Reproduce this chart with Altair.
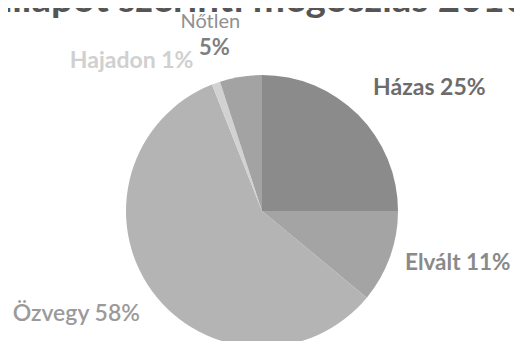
import altair as alt
import pandas as pd

categories = ["Házas", "Elvált", "Özvegy", "Hajadon", "Nőtlen"]
shares = [25, 11, 58, 1, 5]
labels = ["Házas 25%", "Elvált 11%", "Özvegy 58%", "Hajadon 1%", "5%"]
title_text = "Családi állapot szerinti megoszlás 2010"
slice_colors = ["#8b8b8b", "#a4a4a4", "#b4b4b4", "#d2d2d2", "#a3a3a3"]

df = pd.DataFrame({
    "cat": categories,
    "share": shares,
    "label": labels,
    "idx": list(range(len(categories))),
})

CX, CY, R = 254, 203, 136

pie = alt.Chart(df).mark_arc(outerRadius=R).encode(
    theta=alt.Theta("share:Q", stack=True),
    order=alt.Order("idx:Q"),
    x=alt.value(CX),
    y=alt.value(CY),
    color=alt.Color("cat:N", scale=alt.Scale(domain=categories, range=slice_colors), legend=None),
)

text_base = alt.Chart(df).transform_window(
    cum="sum(share)", sort=[alt.SortField("idx")], frame=[None, 0]
).transform_calculate(
    mid="datum.cum - datum.share / 2"
).encode(
    theta=alt.Theta("mid:Q", stack=None),
    x=alt.value(CX),
    y=alt.value(CY),
)

label_styles = {
    "Házas": dict(dx=33, dy=11, color="#6c6c6c", fontWeight="bold", fontSize=23),
    "Elvált": dict(dx=17, dy=-12, color="#8a8a8a", fontWeight="bold", fontSize=22.5),
    "Özvegy": dict(dx=-32, dy=-9, color="#9a9a9a", fontWeight=600, fontSize=23),
    "Hajadon": dict(dx=-66, dy=29, color="#d0d0d0", fontWeight="bold", fontSize=23),
    "Nőtlen": dict(dx=-18, dy=25, color="#7e7e7e", fontWeight="bold", fontSize=22),
}

layers = [pie]
for cat in categories:
    st = label_styles[cat]
    layers.append(
        text_base.mark_text(radius=190, font="Lato", baseline="middle", align="center", **st)
        .encode(text="label:N")
        .transform_filter(alt.datum.cat == cat)
    )

# category name line of the Nőtlen label
layers.append(
    text_base.mark_text(radius=190, font="Lato", baseline="middle", align="center",
                        dx=-22, dy=-1, color="#909090", fontSize=20)
    .encode(text="cat:N")
    .transform_filter(alt.datum.cat == "Nőtlen")
)

title = alt.Chart(pd.DataFrame({"t": [title_text]})).mark_text(
    font="Lato", fontSize=38.5, fontWeight="bold", color="#555555",
    align="right", baseline="alphabetic",
).encode(text="t:N", x=alt.value(519), y=alt.value(4))

chart = alt.layer(*layers, title).properties(
    width=506, height=333, padding=0, autosize=alt.AutoSizeParams(type="none")
).configure_view(stroke=None)

chart.save("out.html", embed_options={"renderer": "svg", "actions": False})
